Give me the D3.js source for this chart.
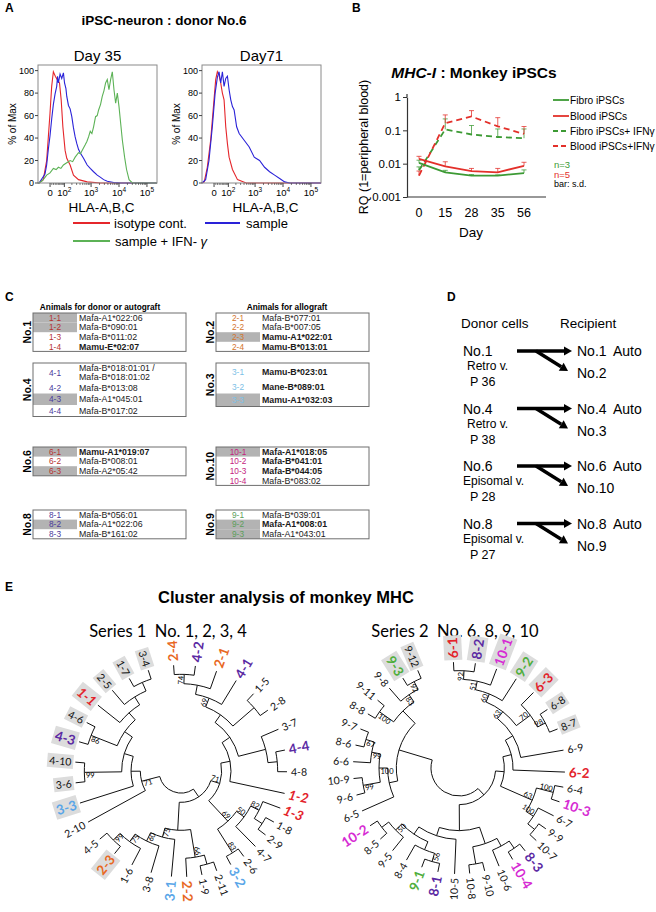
<!DOCTYPE html>
<html><head><meta charset="utf-8">
<script src="https://cdn.jsdelivr.net/npm/d3@7/dist/d3.min.js"></script>
<style>
html,body{margin:0;padding:0;background:#fff;}
svg{display:block;}
</style></head>
<body>
<svg id="chart" width="656" height="912" xmlns="http://www.w3.org/2000/svg"></svg>
<script>
// ================= DATA =================
// Panel A : histograms, x in logicle display units (decades), y = % of Max
const histTickValues = [0, 100, 1000, 10000, 100000];
const histTickExp = ["", "2", "3", "4", "5"];
const histYTicks = [0, 20, 40, 60, 80, 100];
const isoDay35 = [[1.10,0],[1.14,0],[1.29,3],[1.41,20],[1.47,41],[1.53,62],[1.59,86],[1.65,99],[1.72,95],[1.79,92],[1.87,89],[1.93,74],[1.99,50],[2.07,29],[2.13,22],[2.25,16],[2.37,7],[2.55,3],[2.86,1],[3.34,0],[5.36,0]];
const sampleDay35 = [[1.10,0],[1.14,0],[1.35,8],[1.41,16],[1.47,30],[1.53,42],[1.59,57],[1.65,70],[1.71,79],[1.77,86],[1.80,95],[1.83,89],[1.89,97],[1.95,93],[2.01,98],[2.05,89],[2.10,84],[2.13,77],[2.19,69],[2.25,66],[2.31,59],[2.37,49],[2.43,41],[2.49,35],[2.55,30],[2.61,27],[2.73,22],[2.86,16],[2.97,13],[3.09,10],[3.22,7],[3.34,5],[3.45,3],[3.58,1.5],[3.81,0.5],[4.06,0],[5.36,0]];
const ifnDay35 = [[1.10,0],[1.14,0],[1.25,2],[1.35,5],[1.41,7],[1.53,9],[1.65,13],[1.75,12],[1.83,14],[1.92,13],[2.01,16],[2.13,18],[2.25,20],[2.34,19],[2.43,23],[2.55,27],[2.62,26],[2.68,29],[2.79,34],[2.85,37],[2.91,41],[2.97,46],[3.03,44],[3.09,50],[3.16,59],[3.22,60],[3.27,65],[3.34,70],[3.40,77],[3.46,82],[3.52,89],[3.58,92],[3.64,83],[3.70,92],[3.76,99],[3.82,83],[3.88,71],[3.94,80],[4.00,68],[4.06,53],[4.12,38],[4.20,23],[4.27,12],[4.36,3],[4.48,0],[5.36,0]];
const isoDay71 = [[1.10,0],[1.18,1],[1.29,14],[1.41,38],[1.53,74],[1.59,92],[1.65,99],[1.71,96],[1.77,89],[1.83,80],[1.89,74],[1.95,50],[2.01,35],[2.07,23],[2.19,12],[2.37,3],[2.68,0],[5.36,0]];
const sampleDay71 = [[1.10,0],[1.23,3],[1.35,20],[1.47,50],[1.57,80],[1.65,94],[1.71,99],[1.77,89],[1.83,99],[1.89,86],[1.95,93],[2.01,95],[2.07,83],[2.13,74],[2.19,68],[2.25,65],[2.34,50],[2.43,44],[2.61,38],[2.79,32],[2.97,23],[3.16,20],[3.34,14],[3.52,10],[3.70,7],[3.88,4],[4.06,1],[4.24,0],[5.36,0]];

// Panel B : MHC-I RQ
const days = ["0", "15", "28", "35", "56"];
const rqTicks = [1, 0.1, 0.01, 0.001];
const fibro      = [0.0105, 0.0055, 0.0044, 0.0044, 0.0052];
const fibroSD    = [0.0127, 0.0063, 0.0047, 0.0046, 0.0065];
const blood      = [0.0140, 0.0083, 0.0060, 0.0055, 0.0086];
const bloodSD    = [0.0166, 0.0114, 0.0072, 0.0072, 0.0110];
const fibroIfn   = [0.0063, 0.107, 0.075, 0.063, 0.058];
const fibroIfnSD = [0.0080, 0.220, 0.140, 0.110, 0.110];
const bloodIfn   = [0.0044, 0.165, 0.260, 0.132, 0.078];
const bloodIfnSD = [0.0060, 0.290, 0.390, 0.240, 0.130];
const legendB = ["Fibro iPSCs", "Blood iPSCs", "Fibro iPSCs+ IFNγ", "Blood iPSCs+IFNγ"];

// Panel C : MHC alleles  [id, allele, bold, shaded]
const allelesNo1 = [["1-1","Mafa-A1*022:06",0,1],["1-2","Mafa-B*090:01",0,1],["1-3","Mafa-B*011:02",0,0],["1-4","Mamu-E*02:07",1,0]];
const allelesNo4 = [["4-1","Mafa-B*018:01:01 /|Mafa-B*018:01:02",0,0],["4-2","Mafa-B*013:08",0,0],["4-3","Mafa-A1*045:01",0,1],["4-4","Mafa-B*017:02",0,0]];
const allelesNo6 = [["6-1","Mamu-A1*019:07",1,1],["6-2","Mafa-B*008:01",0,0],["6-3","Mafa-A2*05:42",0,1]];
const allelesNo8 = [["8-1","Mafa-B*056:01",0,0],["8-2","Mafa-A1*022:06",0,1],["8-3","Mafa-B*161:02",0,0]];
const allelesNo2 = [["2-1","Mafa-B*077:01",0,0],["2-2","Mafa-B*007:05",0,0],["2-3","Mamu-A1*022:01",1,1],["2-4","Mamu-B*013:01",1,0]];
const allelesNo3 = [["3-1","Mamu-B*023:01",1,0],["3-2","Mane-B*089:01",1,0],["3-3","Mamu-A1*032:03",1,1]];
const allelesNo10 = [["10-1","Mafa-A1*018:05",1,1],["10-2","Mafa-B*041:01",1,0],["10-3","Mafa-B*044:05",1,0],["10-4","Mafa-B*083:02",0,0]];
const allelesNo9 = [["9-1","Mafa-B*039:01",0,0],["9-2","Mafa-A1*008:01",1,1],["9-3","Mafa-A1*043:01",0,1]];

// Panel D
const donors = ["No.1", "No.4", "No.6", "No.8"];
const vectors = ["Retro v.", "Retro v.", "Episomal v.", "Episomal v."];
const passages = ["P 36", "P 38", "P 28", "P 27"];
const recipients = ["No.2", "No.3", "No.10", "No.9"];

// Panel E : dendrograms (bootstrap value, children)
const N = (b, ...c) => ({b, c});
const tree1 = N("",
  N("",
    N("71",
      N("", N("", N("", N("69", N("", N("74","2-4","4-2"), "2-1"), "4-1"), N("","1-5","2-8")), N("","3-7",N("","4-4","4-8"))), "1-2"),
      N("69", N("50", N("82","1-3",N("","1-8","2-9")), "4-7"), N("83","2-6","3-2"))
    ),
    N("", N("66", N("","2-11","1-9"), "2-2"), N("75","3-1", N("60","3-8", N("75","1-6", N("99","2-3","4-5")))))
  ),
  N("71","2-10", N("","3-3", N("", N("99","3-6","4-10"), N("", N("86","4-3","4-6"), N("","1-1", N("","2-5", N("","1-7","3-4")))))))
);
const top63 = N("63", N("60", N("51", N("92","6-1","8-2"), "10-1"), "9-2"), N("70","6-3", N("98","6-8","8-7")));
const tree2 = N("",
  N("",
    N("", N("", N("", top63, "6-9"), "6-2"), N("63", N("100","6-4","10-3"), N("100","6-7", N("","9-9","10-7")))),
    N("", N("", N("", N("","8-3","10-4"), "10-6"), N("","9-10","10-8")), N("", "10-5", N("", N("", N("56","8-1","9-1"), "8-4"), N("50","9-5", N("","8-5","10-2")))))
  ),
  N("", N("", "6-5", N("100", N("99","9-6","10-9"), N("99","6-6", N("67","8-6","9-7")))), N("", N("100","8-8","9-11"), N("83","9-8", N("92","9-3","9-12"))))
);
const tree1Colored = ["2-4","4-2","2-1","4-1","4-4","1-2","1-3","3-2","2-2","3-1","2-3","3-3","4-3","1-1"];
const tree1Shaded  = ["1-1","4-3","3-3","2-3","4-10","3-6","4-6","2-5","1-7","3-4"];
const tree2Colored = ["6-1","8-2","10-1","9-2","6-3","6-2","10-3","8-3","10-4","8-1","9-1","10-2","9-3"];
const tree2Shaded  = ["6-1","8-2","10-1","9-2","6-3","6-8","8-7","9-3","9-12"];

// ================= DRAWING =================
const F = '"Liberation Sans", Arial, Helvetica, sans-serif';
const FE = 'Lato, "Open Sans", sans-serif';
const svg = d3.select("#chart");
svg.append("rect").attr("width",656).attr("height",912).attr("fill","#fff");

function T(sel, x, y, s, o = {}) {
  const t = sel.append("text").attr("x", x).attr("y", y).attr("dominant-baseline", "central")
    .attr("font-family", o.ff || F).attr("font-size", o.fs || 12).attr("fill", o.fill || "#000")
    .attr("text-anchor", o.anchor || "start");
  if (o.bold) t.attr("font-weight", "bold");
  if (o.italic) t.attr("font-style", "italic");
  if (o.rot) t.attr("transform", `rotate(${o.rot},${x},${y})`);
  t.text(s);
  return t;
}

[["A",5,8],["B",352,8],["C",5,297],["D",447,297],["E",5,587]].forEach(([l,x,y]) => T(svg,x,y,l,{bold:true,fs:12}));

// ---------- Panel A ----------
const histTop = 65, histBot = 183, histW = 119;
const xH = d3.scaleLinear().domain([1.1, 5.36]).range([0, histW]);
const yH = d3.scaleLinear().domain([0, 105]).range([histBot, histTop]);
const logicle = v => Math.asinh(v / 68) / Math.LN10 + Math.log10(34);
const cRed = "#e5262b", cBlue = "#2a22d8", cGreen = "#5cb256";

T(svg, 164, 20, "iPSC-neuron : donor No.6", {bold:true, fs:13.5, anchor:"middle"});

function hist(x0, title, series) {
  const g = svg.append("g").attr("transform", `translate(${x0},0)`);
  T(g, histW/2, 55, title, {fs:15, anchor:"middle"});
  const line = d3.line().x(d => xH(d[0])).y(d => yH(d[1]));
  series.forEach(([data, col]) => g.append("path").attr("d", line(data)).attr("fill","none").attr("stroke",col).attr("stroke-width",1.1));
  g.append("rect").attr("x",0).attr("y",histTop).attr("width",histW).attr("height",histBot-histTop)
    .attr("fill","none").attr("stroke","#8a8a8a").attr("stroke-width",1);
  histYTicks.forEach(v => {
    g.append("line").attr("x1",-3).attr("x2",0).attr("y1",yH(v)).attr("y2",yH(v)).attr("stroke","#444");
    T(g, -4, yH(v), String(v), {fs:9, anchor:"end"});
  });
  const minor = [];
  for (let d = 1; d <= 4; d++) for (let k = 2; k <= 9; k++) minor.push(k * Math.pow(10, d));
  minor.concat([10]).forEach(v => {
    const xx = xH(logicle(v));
    if (xx > 0 && xx < histW) g.append("line").attr("x1",xx).attr("x2",xx).attr("y1",histBot).attr("y2",histBot+2).attr("stroke","#444").attr("stroke-width",0.7);
  });
  histTickValues.forEach((v, i) => {
    const xx = xH(logicle(v));
    g.append("line").attr("x1",xx).attr("x2",xx).attr("y1",histBot).attr("y2",histBot+4).attr("stroke","#444");
    const t = g.append("text").attr("x",xx).attr("y",192).attr("text-anchor","middle").attr("dominant-baseline","central")
      .attr("font-family",F).attr("font-size",9.5);
    if (i === 0) t.text("0");
    else { t.append("tspan").text("10"); t.append("tspan").attr("dy",-3.5).attr("font-size",6.5).text(histTickExp[i]); }
  });
  T(g, histW/2 + 4, 207, "HLA-A,B,C", {fs:13.5, anchor:"middle"});
  T(g, -26, 124, "% of Max", {fs:10, anchor:"middle", rot:-90});
}
hist(38, "Day 35", [[isoDay35, cRed], [sampleDay35, cBlue], [ifnDay35, cGreen]]);
hist(202, "Day71", [[isoDay71, cRed], [sampleDay71, cBlue]]);

[[73,110,223,cRed],[205,240,223,cBlue],[73,110,241,cGreen]].forEach(([a,b,y,c]) =>
  svg.append("line").attr("x1",a).attr("x2",b).attr("y1",y).attr("y2",y).attr("stroke",c).attr("stroke-width",2));
T(svg, 114, 223, "isotype cont.", {fs:13});
T(svg, 246, 223, "sample", {fs:13});
{
  const t = T(svg, 115, 241, "sample + IFN- ", {fs:13});
  t.append("tspan").attr("font-style","italic").text("γ");
}

// ---------- Panel B ----------
const gG = "#3c9a34", gR = "#e3302a";
const xB = d3.scalePoint().domain(days).range([419, 524]);
const yB = d3.scaleLog().domain([0.001, 1]).range([197, 97]);
{
  const t = svg.append("text").attr("x",474).attr("y",72).attr("text-anchor","middle").attr("dominant-baseline","central")
    .attr("font-family",F).attr("font-size",15.5).attr("font-weight","bold");
  t.append("tspan").attr("font-style","italic").text("MHC-I");
  t.append("tspan").text(" : Monkey iPSCs");
}
const axY = svg.append("g").attr("transform","translate(407,0)")
  .call(d3.axisLeft(yB).tickValues(rqTicks).tickFormat(d3.format("~g")).tickSize(4).tickSizeOuter(0));
axY.select(".domain").attr("stroke","#333").attr("stroke-width",1.2);
axY.selectAll(".tick line").attr("stroke","#333");
axY.selectAll(".tick text").attr("font-family",F).attr("font-size",11.5).attr("fill","#000").attr("x",-6);
svg.append("line").attr("x1",407).attr("x2",407).attr("y1",94).attr("y2",97).attr("stroke","#333").attr("stroke-width",1.2);
svg.append("line").attr("x1",407).attr("x2",546).attr("y1",197).attr("y2",197).attr("stroke","#333").attr("stroke-width",1.2);
days.forEach(d => T(svg, xB(d), 213, d, {fs:12.5, anchor:"middle"}));
T(svg, 471, 232, "Day", {fs:13.5, anchor:"middle"});
T(svg, 364, 147, "RQ (1=peripheral blood)", {fs:12.5, anchor:"middle", rot:-90});

function seriesB(vals, sd, col, dash) {
  vals.forEach((v, i) => {
    const x = xB(days[i]);
    svg.append("line").attr("x1",x).attr("x2",x).attr("y1",yB(v)).attr("y2",yB(sd[i])).attr("stroke",col).attr("stroke-width",0.9).attr("opacity",0.85);
    svg.append("line").attr("x1",x-2.5).attr("x2",x+2.5).attr("y1",yB(sd[i])).attr("y2",yB(sd[i])).attr("stroke",col).attr("stroke-width",0.9).attr("opacity",0.85);
  });
  const p = svg.append("path").attr("d", d3.line().x((d,i) => xB(days[i])).y(d => yB(d))(vals))
    .attr("fill","none").attr("stroke",col).attr("stroke-width",1.8);
  if (dash) p.attr("stroke-dasharray","6,4");
}
seriesB(fibroIfn, fibroIfnSD, gG, true);
seriesB(bloodIfn, bloodIfnSD, gR, true);
seriesB(fibro, fibroSD, gG, false);
seriesB(blood, bloodSD, gR, false);

legendB.forEach((s, i) => {
  const y = [100, 116, 131, 146][i];
  const col = i % 2 === 0 ? gG : gR;
  const l = svg.append("line").attr("x1",553).attr("x2",569).attr("y1",y).attr("y2",y).attr("stroke",col).attr("stroke-width",1.8);
  if (i >= 2) l.attr("stroke-dasharray","5,3");
  T(svg, 570, y, s, {fs:10.2});
});
T(svg, 554, 164, "n=3", {fs:9.5, fill:gG});
T(svg, 554, 174, "n=5", {fs:9.5, fill:gR});
T(svg, 554, 184, "bar: s.d.", {fs:9});

// ---------- Panel C ----------
T(svg, 100, 307, "Animals for donor or autograft", {bold:true, fs:8.3, anchor:"middle"});
T(svg, 287, 307, "Animals for allograft", {bold:true, fs:8.3, anchor:"middle"});
const boxW = 153, cellW = 44, rowH = 9.6;
function alleleBox(x, y, label, rows, idColor, heights) {
  const g = svg.append("g");
  let yy = y;
  rows.forEach((r, i) => {
    const h = heights ? heights[i] : rowH;
    if (r[3]) g.append("rect").attr("x",x).attr("y",yy).attr("width",cellW).attr("height",h).attr("fill","#b3b3b3");
    T(g, x + cellW/2, yy + h/2, r[0], {fs:8.3, anchor:"middle", fill:idColor});
    const lines = r[1].split("|");
    lines.forEach((s, j) => T(g, x + 46, yy + h/2 + (j - (lines.length-1)/2) * 8.5, s, {fs:8.8, bold:!!r[2], fill:"#1a1a1a"}));
    yy += h;
  });
  g.append("rect").attr("x",x).attr("y",y).attr("width",boxW).attr("height",yy-y).attr("fill","none").attr("stroke","#6e6e6e").attr("stroke-width",1);
  T(g, x - 6, (y + yy)/2, label, {bold:true, fs:10.5, anchor:"middle", rot:-90});
}
alleleBox(33, 313, "No.1", allelesNo1, "#b5322f");
alleleBox(33, 363, "No.4", allelesNo4, "#4a3a9c", [19, 11.5, 11.5, 11.5]);
alleleBox(33, 447, "No.6", allelesNo6, "#b5322f");
alleleBox(33, 510, "No.8", allelesNo8, "#4a3a9c");
alleleBox(216, 313, "No.2", allelesNo2, "#d4762c");
alleleBox(216, 363, "No.3", allelesNo3, "#7cc0e6", [17, 13.5, 13]);
alleleBox(216, 447, "No.10", allelesNo10, "#c4237e");
alleleBox(216, 510, "No.9", allelesNo9, "#5d9e5b");

// ---------- Panel D ----------
T(svg, 461, 323, "Donor cells", {fs:13.5});
T(svg, 560, 323, "Recipient", {fs:13.5});
function arrow(x1, y1, x2, y2) {
  const a = Math.atan2(y2 - y1, x2 - x1), L = 8, W = 4.6;
  const bx = x2 - L * Math.cos(a), by = y2 - L * Math.sin(a);
  svg.append("line").attr("x1",x1).attr("y1",y1).attr("x2",bx).attr("y2",by).attr("stroke","#000").attr("stroke-width",3.4);
  svg.append("polygon").attr("points", `${x2},${y2} ${bx + W*Math.sin(a)},${by - W*Math.cos(a)} ${bx - W*Math.sin(a)},${by + W*Math.cos(a)}`).attr("fill","#000");
}
donors.forEach((d, i) => {
  const b = 351 + i * 57.5;
  T(svg, 463, b, d, {fs:14});
  T(svg, vectors[i].startsWith("Retro") ? 467 : 463, b + 15, vectors[i], {fs:12});
  T(svg, 470, b + 31, passages[i], {fs:12.5});
  arrow(517, b, 572, b);
  arrow(536, b, 568, b + 20);
  T(svg, 577, b, d, {fs:14});
  T(svg, 613, b, "Auto", {fs:14});
  T(svg, 577, b + 22, recipients[i], {fs:14});
});

// ---------- Panel E ----------
T(svg, 286, 597, "Cluster analysis of monkey MHC", {bold:true, fs:16.5, anchor:"middle"});
T(svg, 168, 631, "Series 1\u00a0\u00a0No. 1, 2, 3, 4", {ff:FE, fs:16.5, anchor:"middle"});
T(svg, 455, 631, "Series 2\u00a0\u00a0No. 6, 8, 9, 10", {ff:FE, fs:16.5, anchor:"middle"});

// gapSpec: [number of consecutive leaf gaps, angular size in degrees]
function drawTree(data, cx, cy, rRoot, rLeaf, rLab, startDeg, gapSpec, colorOf, colored, shaded, italicPref) {
  const root = d3.hierarchy(data, d => d.c);
  d3.cluster().size([1, 1])(root);
  const gaps = gapSpec.flatMap(([k, deg]) => Array(k).fill(deg));
  let acc = startDeg;
  root.leaves().forEach((l, i) => { if (i > 0) acc += gaps[i - 1]; l.x = acc * Math.PI / 180; });
  root.eachAfter(d => { if (d.children) d.x = (d.children[0].x + d.children[d.children.length - 1].x) / 2; });
  const ang = d => d.x;
  const rad = d => rRoot + d.y * (rLeaf - rRoot);
  const P = (a, r) => [r * Math.sin(a), -r * Math.cos(a)];
  const g = svg.append("g").attr("transform", `translate(${cx},${cy})`);
  root.links().forEach(({source: s, target: t}) => {
    const rs = rad(s), rt = rad(t), as = ang(s), at = ang(t);
    const [x0, y0] = P(as, rs), [x1, y1] = P(at, rs), [x2, y2] = P(at, rt);
    const sweep = at > as ? 1 : 0;
    const large = Math.abs(at - as) > Math.PI ? 1 : 0;
    g.append("path").attr("d", `M${x0},${y0}A${rs},${rs} 0 ${large} ${sweep} ${x1},${y1}L${x2},${y2}`)
      .attr("fill","none").attr("stroke","#111").attr("stroke-width",1);
  });
  root.descendants().filter(d => d.children && d.data.b).forEach(d => {
    const a = ang(d), deg = a * 180 / Math.PI - 90, flip = a > Math.PI;
    const gg = g.append("g").attr("transform", `rotate(${deg}) translate(${rad(d) - 1.5},${-3})` + (flip ? " rotate(180)" : ""));
    gg.append("text").attr("font-family", FE).attr("font-size", 7.5).attr("dominant-baseline","central")
      .attr("text-anchor", flip ? "start" : "end").text(d.data.b);
  });
  root.leaves().forEach(d => {
    const name = d.data, a = ang(d), deg = a * 180 / Math.PI - 90, flip = a > Math.PI;
    const big = colored.includes(name);
    const gg = g.append("g").attr("transform", `rotate(${deg}) translate(${rLab},0)` + (flip ? " rotate(180)" : ""));
    const t = gg.append("text").attr("font-family", FE).attr("dominant-baseline","central")
      .attr("text-anchor", flip ? "end" : "start")
      .attr("font-size", big ? 13.5 : 10.5).attr("font-weight", big ? "bold" : "normal")
      .attr("fill", big ? colorOf(name) : "#111").text(name);
    if (big && italicPref && name.startsWith(italicPref)) t.attr("font-style","italic");
    if (shaded.includes(name)) {
      const bb = t.node().getBBox();
      gg.insert("rect", "text").attr("x", bb.x - 2).attr("y", bb.y - 1).attr("width", bb.width + 4).attr("height", bb.height + 2).attr("fill", "#dcdcdc");
    }
  });
}
const col1 = s => ({"1":"#e3232b","2":"#e8681f","3":"#5aa6e8","4":"#5b2aa3"})[s.split("-")[0]];
const col2 = s => ({"6":"#e3232b","8":"#5b2aa3","9":"#4fae3c","10":"#d62bd3"})[s.split("-")[0]];
drawTree(tree1, 181, 771, 22, 106, 110, -4, [[9, 11.8], [10, 8.3], [14, 11.2]], col1, tree1Colored, tree1Shaded, "1-");
drawTree(tree2, 459, 768, 28, 106, 110, -3, [[8, 11.9], [11, 8.2], [17, 9.1]], col2, tree2Colored, tree2Shaded, null);
</script>
</body></html>
